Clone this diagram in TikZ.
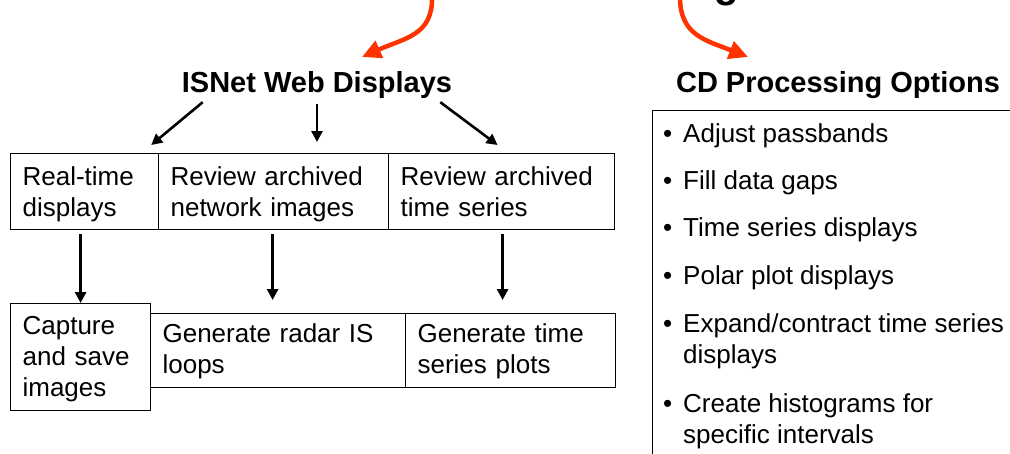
\documentclass[tikz,border=0pt]{standalone}
\usepackage{fontspec}
\setmainfont{Liberation Sans}
\usetikzlibrary{arrows.meta,calc}
\definecolor{orng}{HTML}{FF3300}
\tikzset{
  box/.style={draw, line width=1.2pt, anchor=north west, inner xsep=12pt, inner ysep=0pt,
              align=left, font=\fontsize{26}{31}\selectfont},
  head/.style={font=\bfseries\fontsize{29}{34}\selectfont, anchor=base, inner sep=0pt},
  arr/.style={line width=2.6pt, -{Triangle[length=11pt,width=11pt]}},
  oarr/.style={draw=orng, line width=4.5pt, -{Triangle[length=19pt,width=18pt]}},
  item/.style={anchor=base west, align=left, inner sep=0pt, font=\fontsize{26}{31}\selectfont},
}
\begin{document}
\begin{tikzpicture}[x=1pt,y=-1pt]
\useasboundingbox (0,0) rectangle (1010,453);

% cut-off title fragment
\node[font=\bfseries\fontsize{40}{48}\selectfont, anchor=base, inner sep=0pt] (gfrag) at (727,-3) {g};

% headings
\node[head] (isnet) at (317,92) {ISNet Web Displays};
\node[head] (cdp) at (838,92) {CD Processing Options};

% orange arrows
\coordinate (o1) at (432,-3);
\coordinate (o1t) at (362,57);
\coordinate (o2) at (680,-3);
\coordinate (o2t) at (748,57);
\draw[oarr] (o1) .. controls (433,35) and (405,38) .. (o1t);
\draw[oarr] (o2) .. controls (680,35) and (705,40) .. (o2t);

% top row
\node[box, minimum width=148pt, text width=124pt, text height=32pt, text depth=44pt] (rt) at (10,153) {Real-time\\displays};
\node[box, minimum width=230pt, text width=206pt, text height=32pt, text depth=44pt] (rn) at (158,153) {Review archived\\network images};
\node[box, minimum width=226pt, text width=202pt, text height=32pt, text depth=44pt] (rs) at (388,153) {Review archived\\time series};

% bottom row
\node[box, minimum width=140pt, text width=116pt, text height=31pt, text depth=76pt] (cap) at (10,303) {Capture\\and save\\images};
\node[box, minimum width=255pt, text width=231pt, text height=29pt, text depth=45pt] (gr) at (150,313) {Generate radar IS\\loops};
\node[box, minimum width=210pt, text width=186pt, text height=29pt, text depth=45pt] (gt) at (405,313) {Generate time\\series plots};

% arrows from heading
\draw[arr] ($(isnet.south west)+(21,4)$) -- ($(rt.north east)+(-8,-8)$);
\draw[arr] ($(isnet.south)+(0,6)$) -- ($(isnet.south |- rn.north)+(0,-11)$);
\draw[arr] ($(isnet.south east)+(-12,4)$) -- ($(rs.north)+(-4,-8)$);

% vertical arrows
\draw[arr, shorten <=4pt] (rt.south -| cap.north) -- (cap.north);
\draw[arr, shorten <=4pt] ($(rn.south)+(-1,0)$) -- ($(rn.south |- gr.north)+(-1,-13)$);
\draw[arr, shorten <=4pt] ($(rs.south)+(1,0)$) -- ($(rs.south |- gt.north)+(1,-13)$);

% CD options box
\node[draw, line width=1.2pt, anchor=north west, minimum width=420pt, minimum height=400pt, inner sep=0pt] (cdbox) at (652,110) {};
\node[item] (i1) at (683,142) {\llap{•\hspace{11pt}}Adjust passbands};
\node[item] (i2) at (683,189) {\llap{•\hspace{11pt}}Fill data gaps};
\node[item] (i3) at (683,236) {\llap{•\hspace{11pt}}Time series displays};
\node[item] (i4) at (683,284) {\llap{•\hspace{11pt}}Polar plot displays};
\node[item] (i5) at (683,363) {\llap{•\hspace{11pt}}Expand/contract time series\\displays};
\node[item] (i6) at (683,443) {\llap{•\hspace{11pt}}Create histograms for\\specific intervals};
\end{tikzpicture}
\end{document}
